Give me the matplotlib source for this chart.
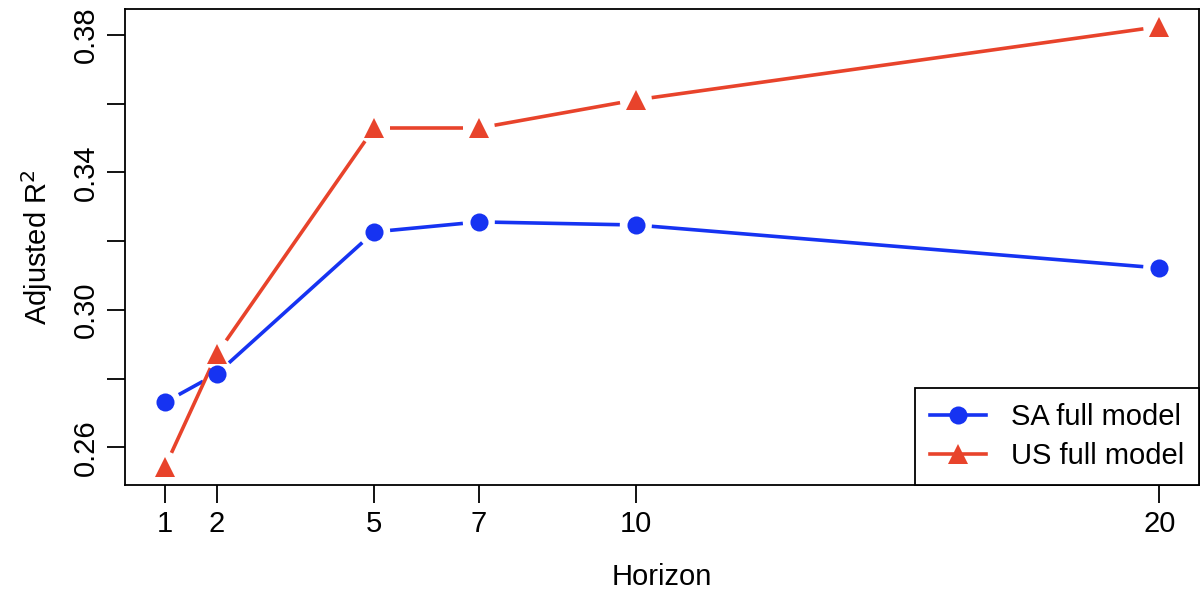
import numpy as np
import matplotlib
matplotlib.use("Agg")
import matplotlib.pyplot as plt
from matplotlib.lines import Line2D

plt.rcParams['font.family'] = ['Liberation Sans', 'DejaVu Sans']

# Forecast horizons and adjusted R^2 of the two full models
horizons = [1, 2, 5, 7, 10, 20]
sa_full = [0.2731, 0.2815, 0.3227, 0.3256, 0.3247, 0.3122]
us_full = [0.2542, 0.2873, 0.3529, 0.3529, 0.3611, 0.3824]
y_ticks = [0.26, 0.28, 0.30, 0.32, 0.34, 0.36, 0.38]
y_tick_labels = ["0.26", "", "0.30", "", "0.34", "", "0.38"]

BLUE = "#1633F2"
RED = "#E8432B"
FS = 21
LW = 2.6

fig = plt.figure(figsize=(12.01, 5.90), dpi=100)
ax = fig.add_axes([125 / 1201, 1 - 485 / 590, (1199 - 125) / 1201, (485 - 9) / 590])

# axis limits with 4% padding around the data range
xr = max(horizons) - min(horizons)
ax.set_xlim(min(horizons) - 0.04 * xr, max(horizons) + 0.04 * xr)
ally = sa_full + us_full
yr = max(ally) - min(ally)
ax.set_ylim(min(ally) - 0.04 * yr, max(ally) + 0.04 * yr)


def gapped_line(x, y, color, marker, ms, gap_px=16, lw=LW):
    """Connect points with segments that stop short of each marker."""
    fig.canvas.draw()
    pts = ax.transData.transform(np.column_stack([x, y]))
    inv = ax.transData.inverted()
    for p0, p1 in zip(pts[:-1], pts[1:]):
        d = p1 - p0
        L = np.hypot(*d)
        if L <= 2 * gap_px:
            continue
        u = d / L
        a = inv.transform(p0 + u * gap_px)
        b = inv.transform(p1 - u * gap_px)
        ax.plot([a[0], b[0]], [a[1], b[1]], color=color, lw=lw,
                solid_capstyle="butt", zorder=2)
    ax.plot(x, y, linestyle="none", marker=marker, ms=ms, color=color,
            markeredgewidth=0, zorder=3)


gapped_line(horizons, sa_full, BLUE, "o", 13)
gapped_line(horizons, us_full, RED, "^", 14)

ax.set_xticks(horizons)
ax.set_xticklabels([str(h) for h in horizons])
ax.set_yticks(y_ticks)
ax.set_yticklabels(y_tick_labels, rotation=90, va="center")
ax.tick_params(axis="both", direction="out", length=13, width=1.3,
               labelsize=FS, color="black")
ax.tick_params(axis="x", pad=5)
ax.tick_params(axis="y", pad=5)
for s in ax.spines.values():
    s.set_linewidth(1.3)

ax.set_xlabel("Horizon", fontsize=FS, labelpad=18)
ax.set_ylabel("Adjusted R$^2$", fontsize=FS, labelpad=12)

handles = [
    Line2D([], [], color=BLUE, lw=LW, marker="o", ms=13, markeredgewidth=0),
    Line2D([], [], color=RED, lw=LW, marker="^", ms=14, markeredgewidth=0),
]
leg = ax.legend(handles, ["SA full model", "US full model"], loc="lower right",
                fontsize=FS, frameon=True, fancybox=False, edgecolor="black",
                framealpha=1, borderaxespad=0, handlelength=1.95,
                handletextpad=0.85, borderpad=0.5, labelspacing=0.4)
leg.get_frame().set_linewidth(1.3)

fig.savefig("out.png", dpi=100)
